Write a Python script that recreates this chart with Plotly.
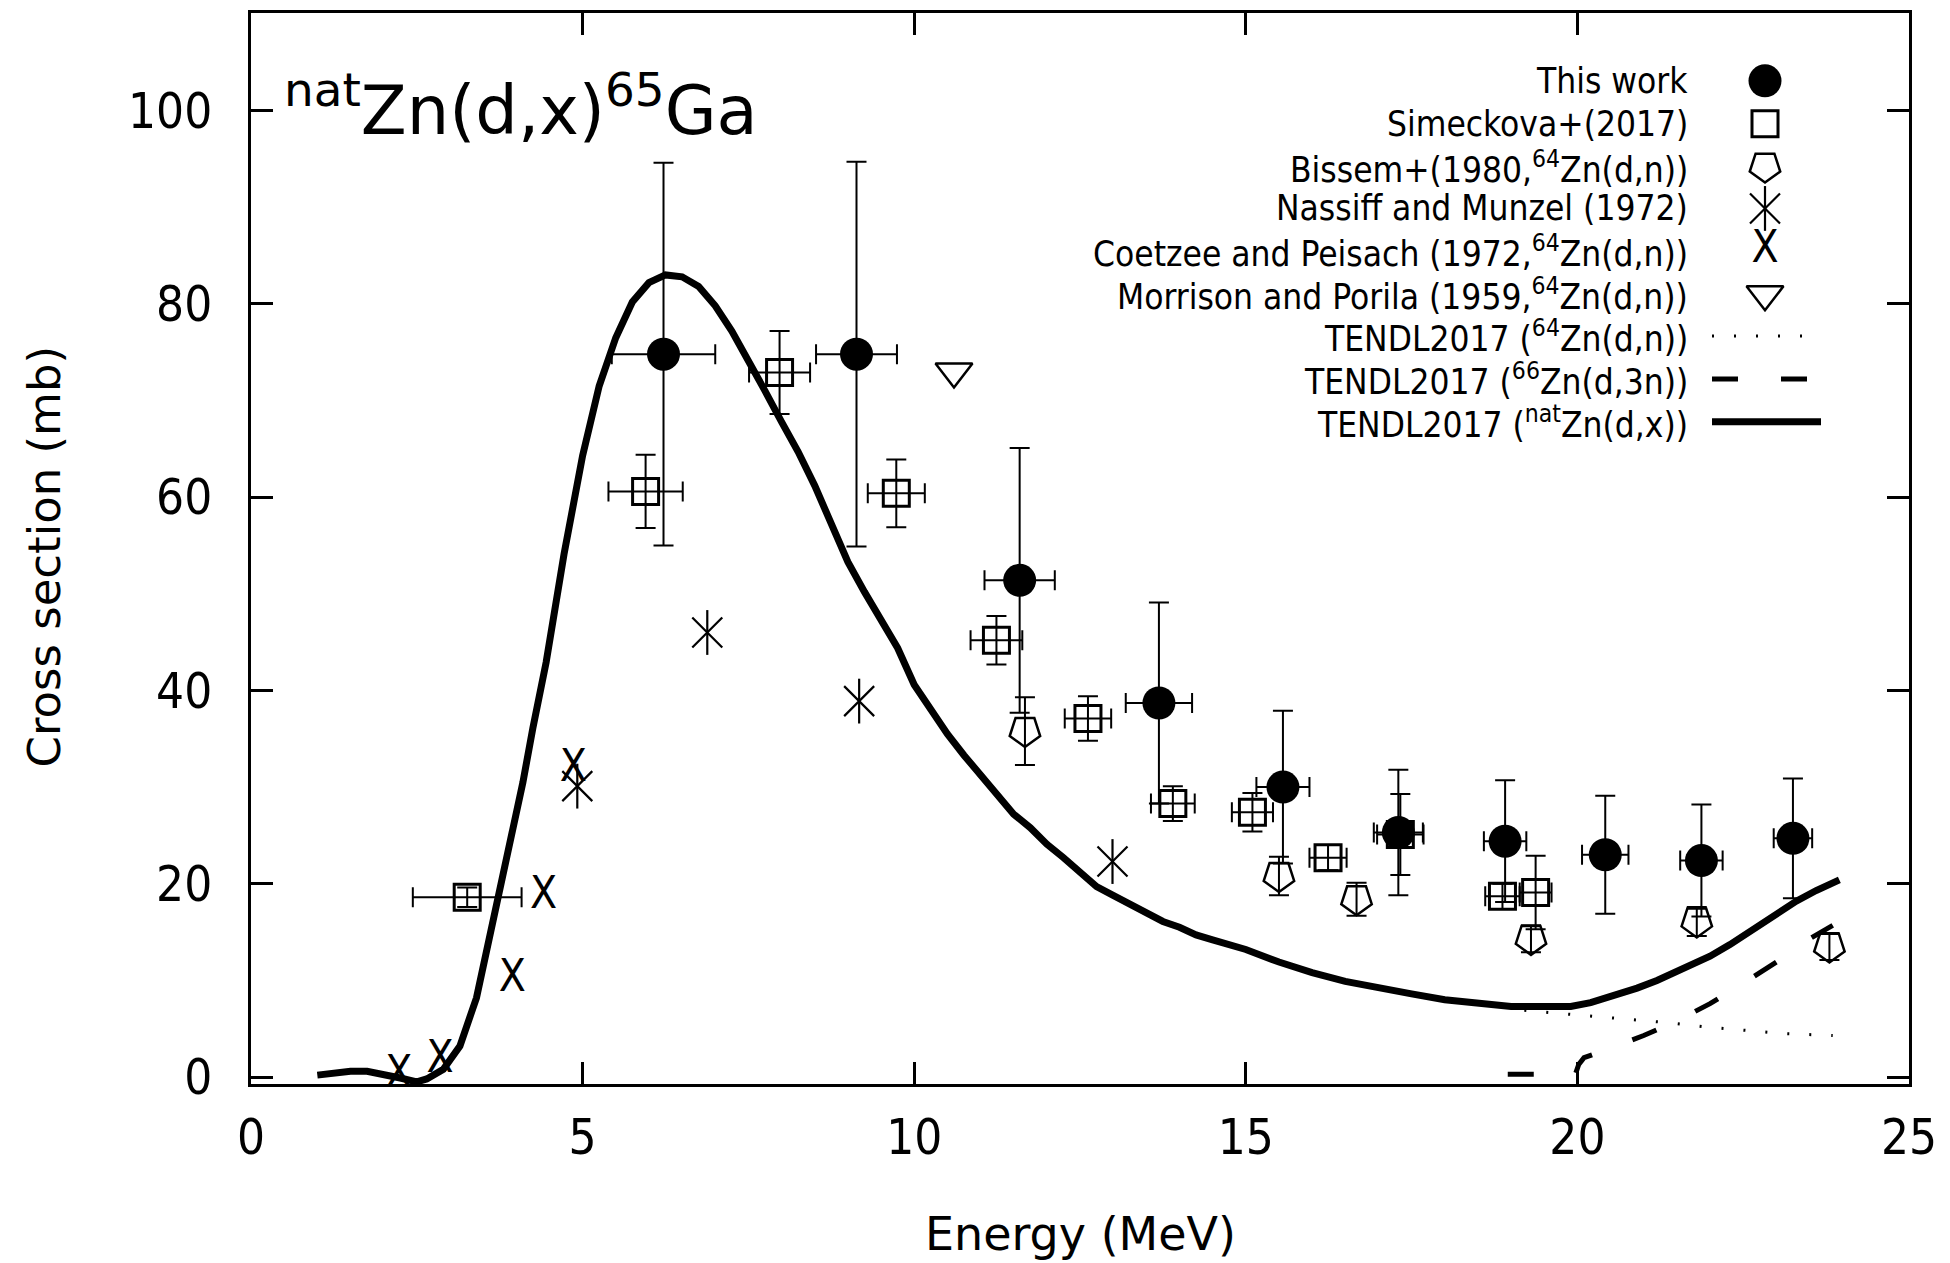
import plotly.graph_objects as go

# ---------------- data ----------------
# This work
tw_E = [6.22, 9.13, 11.59, 13.69, 15.56, 17.30, 18.91, 20.42, 21.87, 23.25]
tw_S = [74.8, 74.8, 51.4, 38.7, 30.0, 25.3, 24.4, 23.0, 22.4, 24.7]
tw_dS = [19.8, 19.9, 13.7, 10.4, 7.9, 6.5, 6.3, 6.1, 5.8, 6.2]
tw_dE = [0.78, 0.61, 0.53, 0.50, 0.40, 0.37, 0.32, 0.35, 0.32, 0.29]

# Simeckova+(2017)
sm_E = [3.26, 5.95, 7.97, 9.73, 11.24, 12.62, 13.90, 15.10, 16.24, 17.33, 18.87, 19.37]
sm_S = [18.6, 60.6, 72.9, 60.4, 45.2, 37.1, 28.3, 27.4, 22.7, 25.1, 18.7, 19.1]
sm_dS = [1.0, 3.8, 4.3, 3.5, 2.5, 2.3, 1.8, 2.0, 1.3, 4.2, 1.3, 3.8]
sm_dE = [0.82, 0.56, 0.46, 0.43, 0.39, 0.35, 0.33, 0.31, 0.28, 0.35, 0.26, 0.24]

# Bissem+(1980, 64Zn(d,n))
bi_E = [11.67, 15.50, 16.67, 19.30, 21.80, 23.80]
bi_S = [35.8, 20.8, 18.4, 14.3, 16.1, 13.5]
bi_dS = [3.5, 2.0, 1.7, 1.4, 1.5, 1.4]

# Nassiff and Munzel (1972)
na_E = [4.92, 6.88, 9.17, 12.99]
na_S = [30.1, 46.0, 38.9, 22.3]

# Coetzee and Peisach (1972, 64Zn(d,n))
co_E = [2.23, 2.85, 3.94, 4.41, 4.86]
co_S = [0.1, 1.7, 10.0, 18.6, 31.8]

# Morrison and Porila (1959, 64Zn(d,n))
mo_E = [10.60]
mo_S = [73.0]

# TENDL2017 natZn(d,x)
tn_E = [1.0, 1.25, 1.5, 1.75, 2.0, 2.25, 2.5, 2.65, 2.9, 3.15, 3.4, 3.65, 3.85, 4.1,
        4.25, 4.45, 4.72, 5.0, 5.25, 5.5, 5.75, 6.0, 6.25, 6.5, 6.75, 7.0, 7.25, 7.5,
        7.75, 8.0, 8.25, 8.5, 8.75, 9.0, 9.25, 9.5, 9.75, 10.0, 10.25, 10.5, 10.75,
        11.0, 11.25, 11.5, 11.75, 12.0, 12.25, 12.5, 12.75, 13.0, 13.25, 13.5, 13.75,
        14.0, 14.25, 14.5, 15.0, 15.5, 16.0, 16.5, 17.0, 17.5, 18.0, 18.5, 19.0, 19.5,
        19.9, 20.2, 20.5, 20.9, 21.2, 21.5, 22.0, 22.3, 22.8, 23.3, 23.6, 23.95]
tn_S = [0.2, 0.4, 0.6, 0.6, 0.3, -0.1, -0.5, -0.2, 0.8, 3.2, 8.2, 16.0, 22.4, 30.5,
        36.1, 42.9, 54.1, 64.3, 71.5, 76.5, 80.2, 82.2, 83.0, 82.8, 81.8, 79.8, 77.2, 74.2,
        71.0, 67.8, 64.7, 61.2, 57.3, 53.3, 50.2, 47.2, 44.4, 40.6, 38.0, 35.5, 33.3,
        31.2, 29.2, 27.2, 25.8, 24.1, 22.7, 21.1, 19.7, 18.8, 17.9, 17.0, 16.1,
        15.5, 14.7, 14.2, 13.2, 11.9, 10.8, 9.9, 9.2, 8.6, 8.0, 7.6, 7.3, 7.3,
        7.3, 7.7, 8.3, 9.2, 10.0, 10.9, 12.5, 13.7, 16.0, 18.2, 19.3, 20.4]

# TENDL2017 64Zn(d,n)
t64_E = [19.2, 19.7, 20.3, 20.8, 21.4, 21.9, 22.4, 23.1, 23.85]
t64_S = [6.9, 6.6, 6.2, 5.9, 5.6, 5.2, 4.9, 4.5, 4.3]

# TENDL2017 66Zn(d,3n)
t66_E = [18.95, 19.5, 19.97, 20.02, 20.1, 20.5, 21.0, 21.5, 22.0, 22.5, 23.0, 23.5, 23.85]
t66_S = [0.3, 0.3, 0.3, 1.3, 2.0, 3.0, 4.3, 5.8, 7.6, 9.7, 11.9, 14.3, 15.7]

legend_labels = [
    "This work",
    "Simeckova+(2017)",
    "Bissem+(1980,<sup>64</sup>Zn(d,n))",
    "Nassiff and Munzel (1972)",
    "Coetzee and Peisach (1972,<sup>64</sup>Zn(d,n))",
    "Morrison and Porila (1959,<sup>64</sup>Zn(d,n))",
    "TENDL2017 (<sup>64</sup>Zn(d,n))",
    "TENDL2017 (<sup>66</sup>Zn(d,3n))",
    "TENDL2017 (<sup>nat</sup>Zn(d,x))",
]

x_ticks = [0, 5, 10, 15, 20, 25]
y_ticks = [0, 20, 40, 60, 80, 100]

# ---------------- figure ----------------
NARROW = "DejaVu Sans Condensed, Liberation Sans Narrow, DejaVu Sans, sans-serif"
WIDE = "DejaVu Sans, Verdana, sans-serif"
BLK = "black"

SZ_CIRC, SZ_SQ, SZ_PENT, SZ_TRI = 33, 26, 32, 32

fig = go.Figure()

def eb(arr, w=10):
    return dict(type="data", array=arr, visible=True, color=BLK, thickness=2, width=w)

# TENDL curves
fig.add_trace(go.Scatter(x=t64_E, y=t64_S, mode="lines",
                         line=dict(color=BLK, width=3, dash="2px,20px")))
fig.add_trace(go.Scatter(x=t66_E, y=t66_S, mode="lines",
                         line=dict(color=BLK, width=5, dash="26px,43px")))
fig.add_trace(go.Scatter(x=tn_E, y=tn_S, mode="lines",
                         line=dict(color=BLK, width=7), cliponaxis=False))

# Morrison
fig.add_trace(go.Scatter(x=mo_E, y=mo_S, mode="markers",
                         marker=dict(symbol="triangle-down-open", size=SZ_TRI,
                                     color=BLK, line=dict(width=2.5, color=BLK))))
# Coetzee (letter X)
fig.add_trace(go.Scatter(x=co_E, y=co_S, mode="text", text=["X"] * len(co_E),
                         textposition="middle center", cliponaxis=False,
                         textfont=dict(family=NARROW, size=44, color=BLK)))
# Nassiff (asterisk: vertical + x)
fig.add_trace(go.Scatter(x=na_E, y=na_S, mode="markers",
                         marker=dict(symbol="line-ns-open", size=32, color=BLK,
                                     line=dict(width=2.2, color=BLK))))
fig.add_trace(go.Scatter(x=na_E, y=na_S, mode="markers",
                         marker=dict(symbol="x-thin-open", size=30, color=BLK,
                                     line=dict(width=2.2, color=BLK))))
# Bissem
fig.add_trace(go.Scatter(x=bi_E, y=bi_S, mode="markers", error_y=eb(bi_dS),
                         marker=dict(symbol="pentagon-open", angle=180, size=SZ_PENT,
                                     color=BLK, line=dict(width=2.5, color=BLK))))
# Simeckova
fig.add_trace(go.Scatter(x=sm_E, y=sm_S, mode="markers",
                         error_y=eb(sm_dS), error_x=eb(sm_dE),
                         marker=dict(symbol="square-open", size=SZ_SQ, color=BLK,
                                     line=dict(width=3, color=BLK))))
# This work
fig.add_trace(go.Scatter(x=tw_E, y=tw_S, mode="markers",
                         error_y=eb(tw_dS), error_x=eb(tw_dE),
                         marker=dict(symbol="circle", size=SZ_CIRC, color=BLK,
                                     line=dict(width=0))))

# ---------------- manual gnuplot-style legend ----------------
L, R, T, B = 251, 1909, 10, 1084
def px(xp):
    return (xp - L) / (R - L)
def py(yp):
    return (B - yp) / (B - T)

rows = [78, 121, 164, 206, 249, 292, 334, 377, 420]
sym_x = px(1765)
ann = []
for lab, r in zip(legend_labels, rows):
    ann.append(dict(x=px(1690), y=py(r), xref="paper", yref="paper", text=lab,
                    showarrow=False, xanchor="right", yanchor="middle",
                    font=dict(family=NARROW, size=35, color=BLK)))

leg = dict(xaxis="x2", yaxis="y2", showlegend=False, hoverinfo="skip")
fig.add_trace(go.Scatter(x=[sym_x], y=[py(rows[0])], mode="markers",
                         marker=dict(symbol="circle", size=SZ_CIRC, color=BLK), **leg))
fig.add_trace(go.Scatter(x=[sym_x], y=[py(rows[1])], mode="markers",
                         marker=dict(symbol="square-open", size=SZ_SQ, color=BLK,
                                     line=dict(width=3, color=BLK)), **leg))
fig.add_trace(go.Scatter(x=[sym_x], y=[py(rows[2])], mode="markers",
                         marker=dict(symbol="pentagon-open", angle=180, size=SZ_PENT, color=BLK,
                                     line=dict(width=2.5, color=BLK)), **leg))
fig.add_trace(go.Scatter(x=[sym_x], y=[py(rows[3])], mode="markers",
                         marker=dict(symbol="line-ns-open", size=32, color=BLK,
                                     line=dict(width=2.2, color=BLK)), **leg))
fig.add_trace(go.Scatter(x=[sym_x], y=[py(rows[3])], mode="markers",
                         marker=dict(symbol="x-thin-open", size=30, color=BLK,
                                     line=dict(width=2.2, color=BLK)), **leg))
fig.add_trace(go.Scatter(x=[sym_x], y=[py(rows[4])], mode="text", text=["X"],
                         textposition="middle center",
                         textfont=dict(family=NARROW, size=44, color=BLK), **leg))
fig.add_trace(go.Scatter(x=[sym_x], y=[py(rows[5])], mode="markers",
                         marker=dict(symbol="triangle-down-open", size=SZ_TRI, color=BLK,
                                     line=dict(width=2.5, color=BLK)), **leg))
lx = [px(1712), px(1821)]
fig.add_trace(go.Scatter(x=lx, y=[py(rows[6])] * 2, mode="lines",
                         line=dict(color=BLK, width=3, dash="2px,20px"), **leg))
fig.add_trace(go.Scatter(x=lx, y=[py(rows[7])] * 2, mode="lines",
                         line=dict(color=BLK, width=5, dash="26px,43px"), **leg))
fig.add_trace(go.Scatter(x=lx, y=[py(rows[8])] * 2, mode="lines",
                         line=dict(color=BLK, width=7), **leg))

# title inside plot
ann.append(dict(x=px(282), y=py(103), xref="paper", yref="paper",
                text="<sup>nat</sup>Zn(d,x)<sup>65</sup>Ga", showarrow=False,
                xanchor="left", yanchor="middle",
                font=dict(family=WIDE, size=67, color=BLK)))
# axis titles
ann.append(dict(x=0.5, y=py(1234), xref="paper", yref="paper", text="Energy (MeV)",
                showarrow=False, xanchor="center", yanchor="middle",
                font=dict(family=WIDE, size=46, color=BLK)))
ann.append(dict(x=px(44), y=py(555), xref="paper", yref="paper", text="Cross section (mb)",
                showarrow=False, xanchor="center", yanchor="middle", textangle=-90,
                font=dict(family=WIDE, size=45, color=BLK)))

axis_common = dict(showline=True, linewidth=3, linecolor=BLK, mirror="ticks",
                   ticks="inside", ticklen=22, tickwidth=2.5, tickcolor=BLK,
                   showgrid=False, zeroline=False,
                   tickfont=dict(family=NARROW, size=49, color=BLK))

fig.update_layout(
    width=1950, height=1263,
    margin=dict(l=L, r=1950 - R, t=T, b=1263 - B),
    plot_bgcolor="white", paper_bgcolor="white",
    showlegend=False,
    annotations=ann,
    xaxis=dict(range=[0, 25], tickvals=x_ticks, ticktext=[str(v) for v in x_ticks],
               ticklabelstandoff=8, **axis_common),
    yaxis=dict(range=[-0.72, 110.1], tickvals=y_ticks, ticktext=[str(v) for v in y_ticks],
               ticklabelstandoff=26, **axis_common),
    xaxis2=dict(range=[0, 1], overlaying="x", visible=False, anchor="y2"),
    yaxis2=dict(range=[0, 1], overlaying="y", visible=False, anchor="x2"),
)

fig.write_html("out.html")
